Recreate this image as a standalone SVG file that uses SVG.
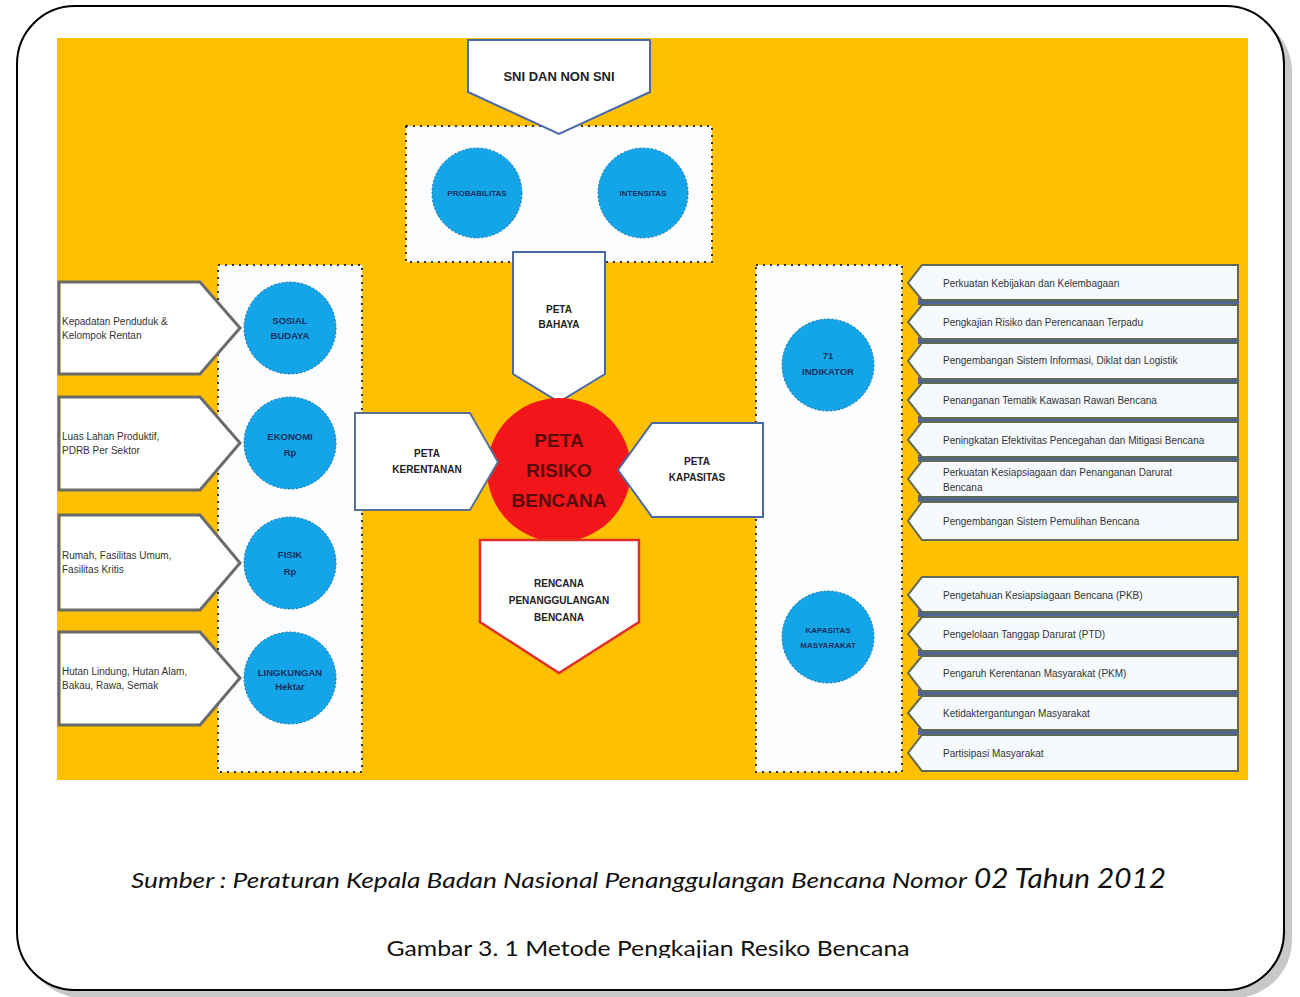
<svg xmlns="http://www.w3.org/2000/svg" width="1300" height="997" viewBox="0 0 1300 997">
<style>
.lbl{font-family:"Liberation Sans",Arial,sans-serif;font-size:10px;fill:#333}
.hd{font-family:"Liberation Sans",Arial,sans-serif;font-size:11px;font-weight:bold;fill:#222;text-anchor:middle}
.ct{font-family:"Liberation Sans",Arial,sans-serif;font-size:9.5px;font-weight:bold;fill:#14305e;text-anchor:middle}
.circ{fill:#14a5e9;stroke:#1c6fa8;stroke-width:1;stroke-dasharray:2 2}
.dot{fill:#fcfdff;stroke:#333;stroke-width:2;stroke-dasharray:2 5}
.lp{fill:#fff;stroke:#6b6b6b;stroke-width:3}
.rb{fill:#f6fafd;stroke:#5f6a55;stroke-width:2}
.band{fill:#4c6592}
.bp{fill:#fff;stroke:#4a6aa5;stroke-width:2}
.cap{font-family:Lato,"Open Sans",sans-serif;fill:#111}
</style>
<defs>
<clipPath id="capclip"><rect x="0" y="0" width="1300" height="958"/></clipPath>
</defs>
<!-- frame -->
<g id="frame">
<rect x="25" y="14" width="1267" height="984" rx="58" fill="#c8c8c8"/>
<rect x="17" y="6" width="1267" height="984" rx="58" fill="#fff" stroke="#000" stroke-width="2"/>
<rect x="57" y="38" width="1191" height="742" fill="#ffc000"/>
</g>
<g id="connectors"></g>
<!-- dotted boxes -->
<g id="box-top"><rect class="dot" x="406" y="126" width="306" height="136"/></g>
<g id="box-left"><rect class="dot" x="218" y="265" width="144" height="507"/></g>
<g id="box-right"><rect class="dot" x="756" y="265" width="146" height="507"/></g>
<!-- top -->
<g id="sni">
<polygon class="bp" points="468,40 650,40 650,92 559,134 468,92"/>
<text class="hd" x="559" y="81" style="font-size:13px">SNI DAN NON SNI</text>
</g>
<g id="probabilitas"><circle class="circ" cx="477" cy="193" r="45"/><text class="ct" x="477" y="196" style="font-size:8px">PROBABILITAS</text></g>
<g id="intensitas"><circle class="circ" cx="643" cy="193" r="45"/><text class="ct" x="643" y="196" style="font-size:8px">INTENSITAS</text></g>
<!-- center -->
<g id="peta-bahaya">
<polygon class="bp" points="513,252 605,252 605,374 559,402 513,374"/>
<text class="hd" x="559" y="313" style="font-size:10px">PETA</text>
<text class="hd" x="559" y="328" style="font-size:10px">BAHAYA</text>
</g>
<g id="peta-risiko">
<circle cx="559" cy="470" r="72" fill="#f2161a"/>
<text class="hd" x="559" y="447" style="font-size:19px;fill:#5a0a0a">PETA</text>
<text class="hd" x="559" y="477" style="font-size:19px;fill:#5a0a0a">RISIKO</text>
<text class="hd" x="559" y="507" style="font-size:19px;fill:#5a0a0a">BENCANA</text>
</g>
<g id="peta-kerentanan">
<polygon class="bp" points="355,413 470,413 498,462 470,510 355,510" style="stroke:#5a7090"/>
<text class="hd" x="427" y="457" style="font-size:10px">PETA</text>
<text class="hd" x="427" y="473" style="font-size:10px">KERENTANAN</text>
</g>
<g id="peta-kapasitas">
<polygon class="bp" points="652,423 763,423 763,517 652,517 618,470"/>
<text class="hd" x="697" y="465" style="font-size:10px">PETA</text>
<text class="hd" x="697" y="481" style="font-size:10px">KAPASITAS</text>
</g>
<g id="rencana">
<polygon points="480,540 639,540 639,622 559,673 480,622" fill="#fff" stroke="#e0302a" stroke-width="2.5"/>
<text class="hd" x="559" y="587" style="font-size:10px">RENCANA</text>
<text class="hd" x="559" y="604" style="font-size:10px">PENANGGULANGAN</text>
<text class="hd" x="559" y="621" style="font-size:10px">BENCANA</text>
</g>
<!-- left pentagons -->
<g id="lp1"><polygon class="lp" points="59,282 200,282 240,328 200,374 59,374"/>
<text class="lbl" x="62" y="325">Kepadatan Penduduk &amp;</text><text class="lbl" x="62" y="339">Kelompok Rentan</text></g>
<g id="lp2"><polygon class="lp" points="59,397 200,397 240,443 200,490 59,490"/>
<text class="lbl" x="62" y="440">Luas Lahan Produktif,</text><text class="lbl" x="62" y="454">PDRB Per Sektor</text></g>
<g id="lp3"><polygon class="lp" points="59,515 200,515 240,563 200,610 59,610"/>
<text class="lbl" x="62" y="559">Rumah, Fasilitas Umum,</text><text class="lbl" x="62" y="573">Fasilitas Kritis</text></g>
<g id="lp4"><polygon class="lp" points="59,632 200,632 240,678 200,725 59,725"/>
<text class="lbl" x="62" y="675">Hutan Lindung, Hutan Alam,</text><text class="lbl" x="62" y="689">Bakau, Rawa, Semak</text></g>
<!-- left circles -->
<g id="sosial"><circle class="circ" cx="290" cy="328" r="46"/><text class="ct" x="290" y="324">SOSIAL</text><text class="ct" x="290" y="339">BUDAYA</text></g>
<g id="ekonomi"><circle class="circ" cx="290" cy="443" r="46"/><text class="ct" x="290" y="440">EKONOMI</text><text class="ct" x="290" y="456">Rp</text></g>
<g id="fisik"><circle class="circ" cx="290" cy="563" r="46"/><text class="ct" x="290" y="558">FISIK</text><text class="ct" x="290" y="575">Rp</text></g>
<g id="lingkungan"><circle class="circ" cx="290" cy="678" r="46"/><text class="ct" x="290" y="676">LINGKUNGAN</text><text class="ct" x="290" y="690">Hektar</text></g>
<!-- right circles -->
<g id="indikator"><circle class="circ" cx="828" cy="365" r="46"/><text class="ct" x="828" y="359">71</text><text class="ct" x="828" y="375">INDIKATOR</text></g>
<g id="masyarakat"><circle class="circ" cx="828" cy="637" r="46"/><text class="ct" x="828" y="633" style="font-size:8px">KAPASITAS</text><text class="ct" x="828" y="648" style="font-size:8px">MASYARAKAT</text></g>
<!-- right boxes group 1 -->
<g id="rb1"><rect class="band" x="918" y="298" width="321" height="7"/><polygon class="rb" points="922,265 1238,265 1238,300 922,300 908,283"/><text class="lbl" x="943" y="287">Perkuatan Kebijakan dan Kelembagaan</text></g>
<g id="rb2"><rect class="band" x="918" y="337" width="321" height="7"/><polygon class="rb" points="922,305 1238,305 1238,339 922,339 908,322"/><text class="lbl" x="943" y="326">Pengkajian Risiko dan Perencanaan Terpadu</text></g>
<g id="rb3"><rect class="band" x="918" y="377" width="321" height="7"/><polygon class="rb" points="922,343 1238,343 1238,379 922,379 908,361"/><text class="lbl" x="943" y="364">Pengembangan Sistem Informasi, Diklat dan Logistik</text></g>
<g id="rb4"><rect class="band" x="918" y="416" width="321" height="7"/><polygon class="rb" points="922,383 1238,383 1238,418 922,418 908,400"/><text class="lbl" x="943" y="404">Penanganan Tematik Kawasan Rawan Bencana</text></g>
<g id="rb5"><rect class="band" x="918" y="455" width="321" height="7"/><polygon class="rb" points="922,422 1238,422 1238,457 922,457 908,440"/><text class="lbl" x="943" y="444">Peningkatan Efektivitas Pencegahan dan Mitigasi Bencana</text></g>
<g id="rb6"><rect class="band" x="918" y="495" width="321" height="7"/><polygon class="rb" points="922,461 1238,461 1238,497 922,497 908,479"/><text class="lbl" x="943" y="476">Perkuatan Kesiapsiagaan dan Penanganan Darurat</text><text class="lbl" x="943" y="491">Bencana</text></g>
<g id="rb7"><polygon class="rb" points="922,502 1238,502 1238,540 922,540 908,521"/><text class="lbl" x="943" y="525">Pengembangan Sistem Pemulihan Bencana</text></g>
<!-- right boxes group 2 -->
<g id="rb8"><rect class="band" x="918" y="610" width="321" height="7"/><polygon class="rb" points="922,577 1238,577 1238,612 922,612 908,595"/><text class="lbl" x="943" y="599">Pengetahuan Kesiapsiagaan Bencana (PKB)</text></g>
<g id="rb9"><rect class="band" x="918" y="649" width="321" height="7"/><polygon class="rb" points="922,617 1238,617 1238,651 922,651 908,634"/><text class="lbl" x="943" y="638">Pengelolaan Tanggap Darurat (PTD)</text></g>
<g id="rb10"><rect class="band" x="918" y="689" width="321" height="7"/><polygon class="rb" points="922,656 1238,656 1238,691 922,691 908,673"/><text class="lbl" x="943" y="677">Pengaruh Kerentanan Masyarakat (PKM)</text></g>
<g id="rb11"><rect class="band" x="918" y="728" width="321" height="7"/><polygon class="rb" points="922,696 1238,696 1238,730 922,730 908,713"/><text class="lbl" x="943" y="717">Ketidaktergantungan Masyarakat</text></g>
<g id="rb12"><polygon class="rb" points="922,735 1238,735 1238,771 922,771 908,753"/><text class="lbl" x="943" y="757">Partisipasi Masyarakat</text></g>
<!-- caption -->
<g id="caption">
<text class="cap" x="131" y="888" style="font-size:21px;font-style:italic" textLength="836" lengthAdjust="spacingAndGlyphs">Sumber : Peraturan Kepala Badan Nasional Penanggulangan Bencana Nomor</text>
<text class="cap" x="974" y="888" style="font-size:27px;font-style:italic" textLength="192" lengthAdjust="spacingAndGlyphs">02 Tahun 2012</text>
<text class="cap" x="648" y="956" clip-path="url(#capclip)" style="font-size:21px;text-anchor:middle" textLength="523" lengthAdjust="spacingAndGlyphs">Gambar 3. 1 Metode Pengkajian Resiko Bencana</text>
</g>
</svg>
